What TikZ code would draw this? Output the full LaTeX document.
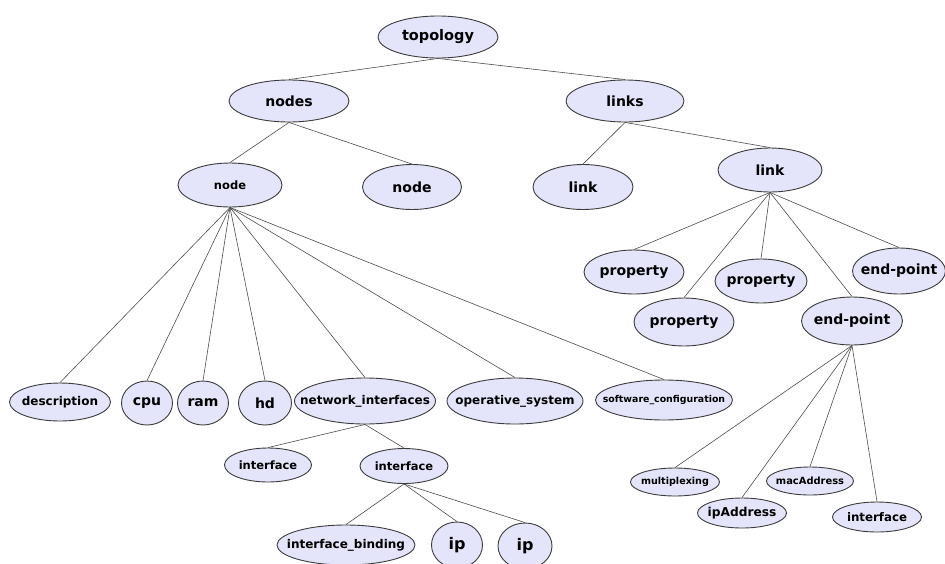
\documentclass[tikz,border=0pt]{standalone}
\usepackage{fontspec}
\setmainfont{DejaVu Sans}
\usetikzlibrary{shapes.geometric}
\definecolor{lav}{RGB}{228,228,250}
\definecolor{rim}{RGB}{60,60,60}
% \ovalnode{name}{x,y}{width}{height}{font size}{text}
\newcommand\ovalnode[6]{%
  \node[oval={#3pt}{#4pt}] (#1) at (#2) {};
  \node[fs=#5] (#1-t) at (#1.center) {#6};}
\begin{document}
\begin{tikzpicture}[x=1pt,y=-1pt,
  oval/.style 2 args={ellipse, draw=rim, line width=0.9pt, fill=lav, inner sep=0pt,
    minimum width=#1, minimum height=#2},
  fs/.style={inner sep=0pt, font=\fontsize{#1}{#1}\selectfont\bfseries},
  tie/.style={draw=black!70, line width=0.6pt}]
\useasboundingbox (0,0) rectangle (945,563);
\clip (0,0) rectangle (945,563);

% top levels
\ovalnode{topology}{438,37}{120}{42}{14.5}{topology}
\ovalnode{nodes}{289,101}{120}{42}{14}{nodes}
\ovalnode{links}{625,101}{118}{42}{14}{links}

\ovalnode{nodeA}{230,185}{104}{44}{11.5}{node}
\ovalnode{nodeB}{412,187}{99}{45}{14}{node}
\ovalnode{linkA}{583,187}{100}{45}{14}{link}
\ovalnode{linkB}{770,170}{104}{44}{14}{link}

% link children
\ovalnode{prop1}{634,272}{100}{44}{14}{property}
\ovalnode{prop2}{761,281}{92}{44}{14}{property}
\ovalnode{endR}{899,271}{93}{46}{14}{end-point}
\ovalnode{prop3}{684,322}{100}{48}{14}{property}
\ovalnode{endB}{852,321}{101}{48}{14}{end-point}

% node children
\ovalnode{descr}{60,402}{101}{38}{12}{description}
\ovalnode{cpu}{147,403}{51}{44}{14}{cpu}
\ovalnode{ram}{203,403}{51}{44}{14}{ram}
\ovalnode{hd}{265,403}{53}{44}{14}{hd}
\ovalnode{netif}{365,401}{141}{46}{12}{network\_interfaces}
\ovalnode{opsys}{515,401}{136}{46}{12}{operative\_system}
\ovalnode{swconf}{664,400}{137}{40}{9.4}{software\_configuration}

% interfaces
\ovalnode{ifA}{268,465}{87}{34}{11.5}{interface}
\ovalnode{ifB}{404,466}{88}{35}{11.5}{interface}
\ovalnode{ifbind}{346,545}{138}{40}{12}{interface\_binding}
\ovalnode{ipA}{457,545}{51}{46}{16}{ip}
\ovalnode{ipB}{525,546}{54}{46}{16}{ip}

% end-point children
\ovalnode{mux}{675,482}{89}{28}{9.6}{multiplexing}
\ovalnode{ipaddr}{742,513}{89}{30}{12.2}{ipAddress}
\ovalnode{mac}{810,481}{87}{28}{9.9}{macAddress}
\ovalnode{ifC}{877,517}{89}{30}{11.8}{interface}

% connectors
\draw[tie] (topology.south) -- (nodes.north);
\draw[tie] (topology.south) -- (links.north);
\draw[tie] (nodes.south) -- (nodeA.north);
\draw[tie] (nodes.south) -- (nodeB.north);
\draw[tie] (links.south) -- (linkA.north);
\draw[tie] (links.south) -- (linkB.north);
\foreach \c in {prop1,prop2,endR,prop3,endB}
  \draw[tie] (linkB.south) -- (\c.north);
\foreach \c in {descr,cpu,ram,hd,netif,opsys,swconf}
  \draw[tie] (nodeA.south) -- (\c.north);
\draw[tie] (netif.south) -- (ifA.north);
\draw[tie] (netif.south) -- (ifB.north);
\foreach \c in {ifbind,ipA,ipB}
  \draw[tie] (ifB.south) -- (\c.north);
\foreach \c in {mux,ipaddr,mac,ifC}
  \draw[tie] (endB.south) -- (\c.north);
\end{tikzpicture}
\end{document}
